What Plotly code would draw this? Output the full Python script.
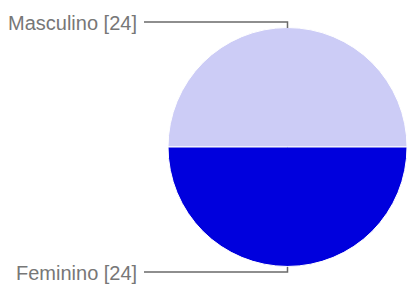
import plotly.graph_objects as go

labels = ["Masculino", "Feminino"]
values = [24, 24]
colors = ["#ccccf6", "#0000dd"]

W, H = 407, 284
# pie domain in pixels
px0, px1 = 168, 407
py_top, py_bot = 27, 267
dom_x = [px0 / W, px1 / W]
dom_y = [1 - py_bot / H, 1 - py_top / H]
cx = (px0 + px1) / 2

fig = go.Figure(go.Pie(
    labels=labels, values=values, sort=False, direction="clockwise",
    rotation=-90, textinfo="none", hoverinfo="label+value",
    marker=dict(colors=colors, line=dict(color="white", width=1)),
    domain=dict(x=dom_x, y=dom_y), showlegend=False,
))

label_y = [22, 272]
edge_y = [py_top + 1, py_bot]
shapes, annotations = [], []
for lab, val, ly, ey in zip(labels, values, label_y, edge_y):
    annotations.append(dict(
        text=f"{lab} [{val}]", x=139 / W, y=1 - (ly + 1) / H,
        xref="paper", yref="paper", xanchor="right", yanchor="middle",
        showarrow=False, font=dict(family="Liberation Sans, Arial", size=20, color="#777777"),
    ))
    shapes.append(dict(
        type="path", xref="paper", yref="paper",
        path=f"M {144 / W} {1 - ly / H} L {cx / W} {1 - ly / H} L {cx / W} {1 - ey / H}",
        line=dict(color="#6a6a6a", width=1.5),
    ))

fig.update_layout(
    width=W, height=H, margin=dict(l=0, r=0, t=0, b=0),
    paper_bgcolor="white", plot_bgcolor="white",
    shapes=shapes, annotations=annotations,
)
fig.write_html("out.html", config={"displayModeBar": False},
               post_script="document.body.style.margin='0';document.body.style.overflow='hidden';")
